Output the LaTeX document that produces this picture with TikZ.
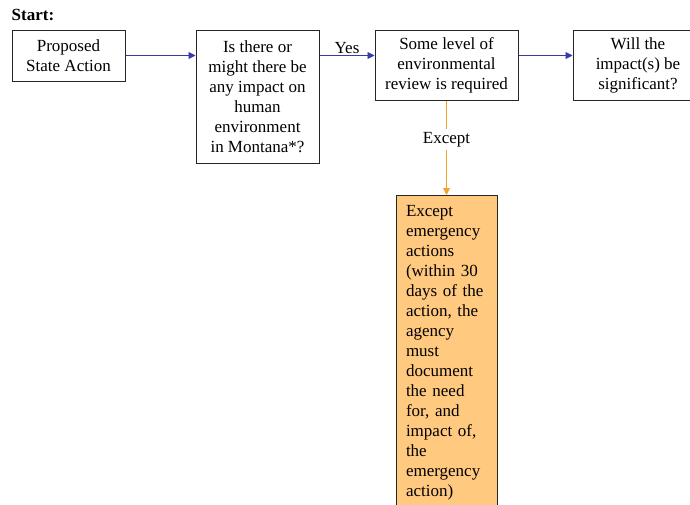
\documentclass[tikz,border=0pt]{standalone}
\usepackage{fontspec}
\setmainfont{Liberation Serif}
\usetikzlibrary{positioning}
\usetikzlibrary{arrows.meta}
\definecolor{flowblue}{RGB}{58,58,165}
\definecolor{excorange}{RGB}{242,162,45}
\definecolor{excfill}{RGB}{255,201,128}

\begin{document}
\begin{tikzpicture}[x=1pt,y=1pt,>={Triangle[length=7pt,width=7pt]},font=\fontsize{17}{20}\selectfont,
    box/.style={draw=black!85,line width=1pt,align=center,inner sep=0pt},
    flow/.style={->,flowblue,line width=0.9pt}]
    \useasboundingbox (0,0) rectangle (690,-504);
    \clip (0,0) rectangle (690,-504);% boxes on the right and bottom run off the page
    \node[anchor=west,inner sep=0pt,font=\fontsize{17}{20}\selectfont\bfseries] (start) at (11.5,-14.5) {Start:};
    \node[box,minimum width=113,minimum height=51] (propose) at (68.5,-55.5) {Proposed\\State Action};
    \node[box,minimum width=123,minimum height=133] (impact) at (257.5,-96.5) {Is there or\\might there be\\any impact on\\human\\environment\\in Montana*?};
    \node[box,minimum width=143,minimum height=70] (review) at (446.5,-65) {Some level of\\environmental\\review is required};
    \node[box,minimum width=130,minimum height=70] (signif) at (638,-65) {Will the\\impact(s) be\\significant?};
    \node[box,fill=excfill,anchor=north,text width=81pt,align=left,inner xsep=10pt,inner ysep=10pt] (emerg) at (446.5,-195)
        {Except\\emergency\\actions\\(within 30\\days of the\\action, the\\agency\\must\\document\\the need\\for, and\\impact of,\\the\\emergency\\action)};
    \draw [flow] (propose.east) -- (impact.west |- propose.east);
    \draw [flow] (impact.east |- propose.east) -- node[above,inner sep=1pt,text=black] {Yes} (review.west |- propose.east);
    \draw [flow] (review.east |- propose.east) -- (signif.west |- propose.east);
    \draw [->,excorange,line width=0.9pt] (review) -- node[pos=0.41,fill=white,text=black] {Except} (emerg);
\end{tikzpicture}
\end{document}
